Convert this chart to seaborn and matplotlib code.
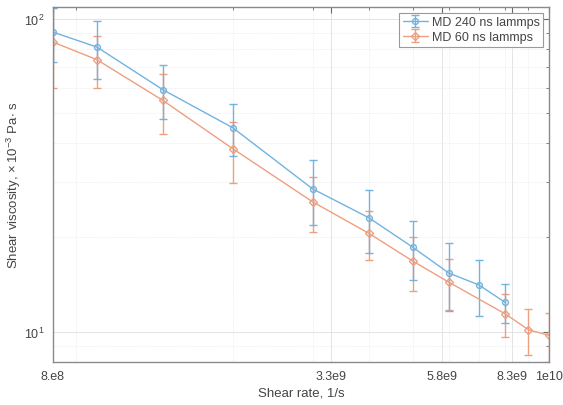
import numpy as np
import pandas as pd
import matplotlib
matplotlib.use("Agg")
import matplotlib.pyplot as plt
from matplotlib.ticker import LogLocator, NullFormatter, FixedLocator, FixedFormatter
from matplotlib.legend_handler import HandlerTuple
import seaborn as sns

# Shear rate (1/s) and viscosity (x1e-3 Pa s) with standard deviations
rate_240 = [8e8, 1e9, 1.4e9, 2e9, 3e9, 4e9, 5e9, 6e9, 7e9, 8e9]
visc_240 = [90.6, 81.2, 59.3, 44.8, 28.6, 23.1, 18.6, 15.4, 14.1, 12.4]
err_240 = [17.9, 17.2, 11.6, 8.4, 6.7, 5.2, 4.0, 3.8, 2.85, 1.75]

rate_60 = [8e8, 1e9, 1.4e9, 2e9, 3e9, 4e9, 5e9, 6e9, 8e9, 9e9, 1e10]
visc_60 = [84.2, 74.0, 54.8, 38.4, 26.0, 20.6, 16.8, 14.4, 11.4, 10.15, 9.73]
err_60 = [24.1, 14.0, 12.0, 8.5, 5.2, 3.7, 3.3, 2.7, 1.8, 1.7, 1.75]

series_names = ["MD 240 ns lammps", "MD 60 ns lammps"]
xtick_values = [8e8, 3.3e9, 5.8e9, 8.3e9, 1e10]
xtick_labels = ["8.e8", "3.3e9", "5.8e9", "8.3e9", "1e10"]

colors = {series_names[0]: "#72b3e0", series_names[1]: "#ee9f80"}
markers = {series_names[0]: "o", series_names[1]: "D"}

df = pd.concat([
    pd.DataFrame({"rate": rate_240, "visc": visc_240, "err": err_240, "series": series_names[0]}),
    pd.DataFrame({"rate": rate_60, "visc": visc_60, "err": err_60, "series": series_names[1]}),
], ignore_index=True)

sns.set_theme(style="white")
plt.rcParams["font.family"] = ["Liberation Sans", "DejaVu Sans"]
plt.rcParams["mathtext.default"] = "regular"
text_color = "#454545"
plt.rcParams["text.color"] = text_color
plt.rcParams["axes.labelcolor"] = text_color
plt.rcParams["xtick.color"] = "#6a6a6a"
plt.rcParams["ytick.color"] = "#6a6a6a"
plt.rcParams["xtick.labelcolor"] = text_color
plt.rcParams["ytick.labelcolor"] = text_color

fig = plt.figure(figsize=(5.63, 4.06), dpi=100)
ax = fig.add_axes([53 / 563, 43 / 406, 496 / 563, 355 / 406])

# Error bars first, drawn underneath the connecting lines
errbars = {}
for name in series_names[::-1]:
    sub = df[df["series"] == name]
    errbars[name] = ax.errorbar(sub["rate"], sub["visc"], yerr=sub["err"], fmt="none",
                                ecolor=colors[name], elinewidth=1.0, capsize=3, capthick=1.0)

n_before = len(ax.get_lines())
sns.lineplot(data=df, x="rate", y="visc", hue="series", style="series",
             hue_order=series_names, style_order=series_names,
             palette=colors, markers=markers, dashes=False, linewidth=1.0,
             markersize=4.2, markeredgewidth=1.0,
             legend=False, ax=ax, sort=True)

series_lines = ax.get_lines()[n_before:]
handles = []
for name, line in zip(series_names, series_lines):
    line.set_markerfacecolor("none")
    line.set_markeredgecolor(colors[name])
    if markers[name] == "D":
        line.set_markersize(3.6)
    handles.append((errbars[name], line))

ax.set_xscale("log")
ax.set_yscale("log")
ax.set_xlim(8e8, 1e10)
ax.set_ylim(8.0, 109)

ax.xaxis.set_major_locator(FixedLocator(xtick_values))
ax.xaxis.set_major_formatter(FixedFormatter(xtick_labels))
ax.xaxis.set_minor_locator(LogLocator(base=10, subs=np.arange(2, 10), numticks=20))
ax.xaxis.set_minor_formatter(NullFormatter())
ax.yaxis.set_major_locator(LogLocator(base=10, numticks=10))
ax.yaxis.set_minor_locator(LogLocator(base=10, subs=np.arange(2, 10), numticks=20))
ax.yaxis.set_minor_formatter(NullFormatter())

ax.tick_params(which="both", direction="in", top=True, right=True, labelsize=9, pad=6)
ax.tick_params(which="major", length=4, width=0.8)
ax.tick_params(which="minor", length=2.5, width=0.6)

ax.grid(True, which="major", color="#e4e4e4", linewidth=0.7)
ax.grid(True, which="minor", color="#ececec", linewidth=0.6, linestyle=(0, (1, 1)))
ax.set_axisbelow(True)

for sp in ax.spines.values():
    sp.set_color("#8a8a8a")
    sp.set_linewidth(1.0)

ax.set_xlabel("Shear rate, 1/s", fontsize=9.5, labelpad=3)
ax.set_ylabel(r"Shear viscosity, $\times\,10^{-3}$ Pa$\cdot$ s", fontsize=9.5, labelpad=1)

leg = ax.legend(handles, series_names, handler_map={tuple: HandlerTuple(ndivide=1)},
                loc="upper right", fontsize=9, frameon=True, fancybox=False,
                borderaxespad=0.45, handlelength=2.0, handletextpad=0.3,
                borderpad=0.3, labelspacing=0.2)
leg.get_frame().set_edgecolor("#9a9a9a")
leg.get_frame().set_linewidth(0.8)
leg.get_frame().set_alpha(1.0)

fig.savefig("out.png", dpi=100, facecolor="white")
